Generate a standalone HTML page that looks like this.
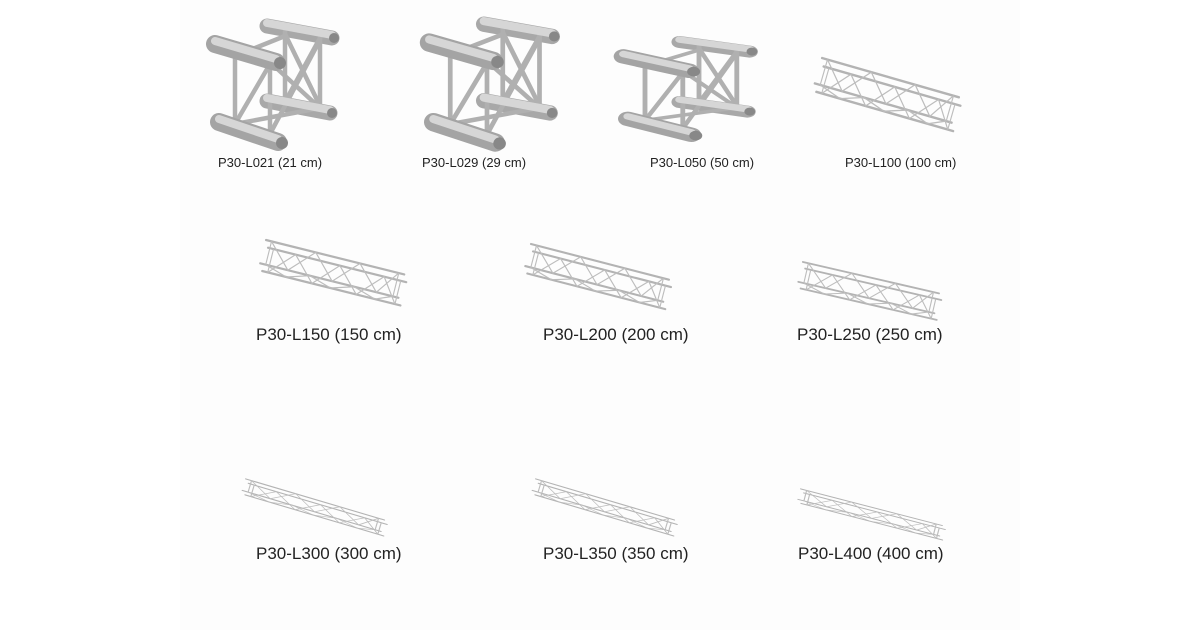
<!DOCTYPE html>
<html><head><meta charset="utf-8"><style>
html,body{margin:0;padding:0;background:#fff}
body{width:1200px;height:630px;position:relative;overflow:hidden;font-family:"Liberation Sans",sans-serif;color:#222}
.panel{position:absolute;left:180px;top:0;width:840px;height:630px;background:#fdfdfd}
.l{position:absolute;white-space:nowrap}
.s{font-size:13px}
.b{font-size:17px}
svg{position:absolute;left:0;top:0}
</style></head><body>
<div class="panel"></div>
<svg width="1200" height="630" viewBox="0 0 1200 630">
<defs>
<g id="t">
 <g stroke="#b3b3b3" stroke-width="2.2" fill="none" stroke-linecap="round">
  <line x1="0" y1="0" x2="150" y2="0"/>
  <line x1="4" y1="7" x2="154" y2="7"/>
  <line x1="0" y1="24" x2="150" y2="24"/>
  <line x1="4" y1="31" x2="154" y2="31"/>
 </g>
 <g stroke="#bdbdbd" stroke-width="1.2" fill="none">
  <path d="M6 0V24M144 0V24M10 7V31M148 7V31"/>
  <path d="M6 0L30 24L54 0L78 24L102 0L126 24L144 0"/>
  <path d="M10 31L34 7L58 31L82 7L106 31L130 7L148 31"/>
  <path d="M6 24L30 31L54 24L78 31L102 24L126 31L144 24"/>
 </g>
</g>
<g id="cube" stroke-linecap="round" fill="none">
 <g stroke="#a8a8a8" stroke-width="15">
  <line x1="57" y1="10" x2="122" y2="22"/>
  <line x1="57" y1="85" x2="120" y2="97"/>
 </g>
 <g stroke="#b0b0b0" stroke-width="4.5">
  <line x1="75" y1="15" x2="75" y2="88"/><line x1="110" y1="20" x2="110" y2="92"/>
  <line x1="25" y1="35" x2="25" y2="110"/><line x1="60" y1="45" x2="60" y2="118"/>
  <line x1="75" y1="18" x2="110" y2="90"/><line x1="110" y1="22" x2="75" y2="86"/>
  <line x1="60" y1="48" x2="25" y2="108"/><line x1="62" y1="48" x2="110" y2="92"/>
  <line x1="25" y1="108" x2="110" y2="92"/><line x1="25" y1="40" x2="75" y2="20"/>
  <line x1="60" y1="118" x2="110" y2="24"/>
 </g>
 <g stroke="#a4a4a4" stroke-width="18">
  <line x1="5" y1="28" x2="66" y2="46"/>
  <line x1="9" y1="106" x2="68" y2="126"/>
 </g>
 <g stroke="#d6d6d6" stroke-width="8">
  <line x1="5" y1="25" x2="66" y2="43"/>
  <line x1="9" y1="103" x2="68" y2="123"/>
  <line x1="57" y1="7" x2="122" y2="19"/>
  <line x1="57" y1="82" x2="120" y2="94"/>
 </g>
 <circle cx="70" cy="47" r="6" fill="#888"/><circle cx="72" cy="127" r="6" fill="#888"/>
 <circle cx="124" cy="22" r="5" fill="#888"/><circle cx="122" cy="97" r="5" fill="#888"/>
</g>
</defs>
<!-- row1 -->
<use href="#cube" transform="translate(210,16)"/>
<use href="#cube" transform="translate(424,14) scale(1.05,1.02)"/>
<use href="#cube" transform="translate(618,34) scale(1.08,0.8)"/>
<use href="#t" transform="translate(822,58) rotate(16) scale(0.95,1.1)"/>
<!-- row2 -->
<use href="#t" transform="translate(266,240) rotate(14) scale(0.95,1)"/>
<use href="#t" transform="translate(531,244) rotate(14.5) scale(0.95,0.95)"/>
<use href="#t" transform="translate(803,262) rotate(13) scale(0.93,0.85)"/>
<!-- row3 -->
<use href="#t" transform="translate(246,479) rotate(16.5) scale(0.96,0.5)"/>
<use href="#t" transform="translate(536,479) rotate(16.5) scale(0.96,0.5)"/>
<use href="#t" transform="translate(801,489) rotate(14.5) scale(0.97,0.45)"/>
</svg>
<div class="l s" style="left:218px;top:155px">P30-L021 (21 cm)</div>
<div class="l s" style="left:422px;top:155px">P30-L029 (29 cm)</div>
<div class="l s" style="left:650px;top:155px">P30-L050 (50 cm)</div>
<div class="l s" style="left:845px;top:155px">P30-L100 (100 cm)</div>
<div class="l b" style="left:256px;top:325px">P30-L150 (150 cm)</div>
<div class="l b" style="left:543px;top:325px">P30-L200 (200 cm)</div>
<div class="l b" style="left:797px;top:325px">P30-L250 (250 cm)</div>
<div class="l b" style="left:256px;top:544px">P30-L300 (300 cm)</div>
<div class="l b" style="left:543px;top:544px">P30-L350 (350 cm)</div>
<div class="l b" style="left:798px;top:544px">P30-L400 (400 cm)</div>
</body></html>
